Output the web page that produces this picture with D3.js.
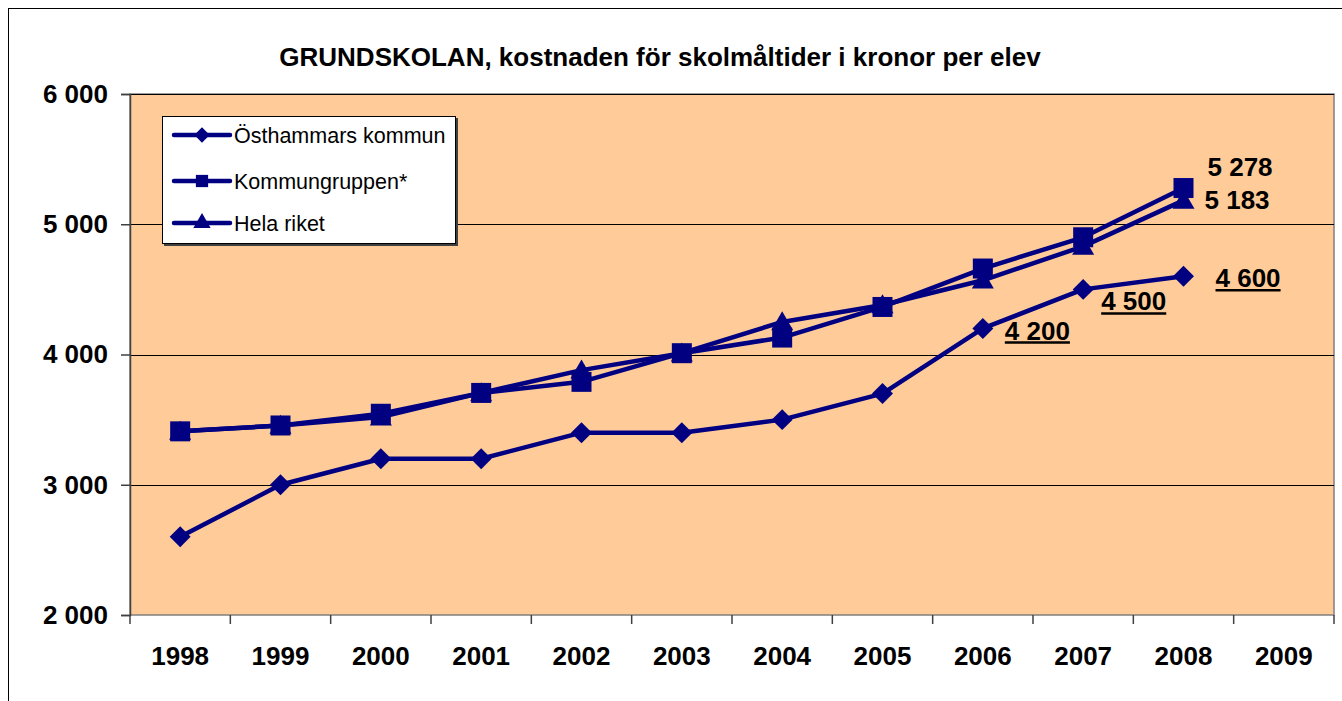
<!DOCTYPE html>
<html>
<head>
<meta charset="utf-8">
<script src="https://cdn.jsdelivr.net/npm/d3@7"></script>
<style>
    body { margin: 0; background: #fff; }
    text { font-family: Arial, "Liberation Sans", sans-serif; }
</style>
</head>
<body>
<div id="chart"></div>
<script>
const years = ["1998", "1999", "2000", "2001", "2002", "2003", "2004", "2005", "2006", "2007", "2008", "2009"];
const yTicks = [2000, 3000, 4000, 5000, 6000];

const osthammar = [2600, 3000, 3200, 3200, 3400, 3400, 3500, 3700, 4200, 4500, 4600];
const kommungruppen = [3410, 3455, 3545, 3705, 3790, 4010, 4130, 4365, 4660, 4900, 5278];
const helaRiket = [3410, 3455, 3520, 3705, 3880, 4010, 4250, 4380, 4570, 4830, 5183];

const seriesNames = ["Östhammars kommun", "Kommungruppen*", "Hela riket"];

// labels shown next to the last points
const endLabels = [
    { series: 1, year: "2008", text: "5 278", dx: 24, dy: -21, underline: false },
    { series: 2, year: "2008", text: "5 183", dx: 21, dy: -1, underline: false },
    { series: 0, year: "2008", text: "4 600", dx: 32, dy: 2, underline: true },
    { series: 0, year: "2007", text: "4 500", dx: 18, dy: 12, underline: true },
    { series: 0, year: "2006", text: "4 200", dx: 22, dy: 2, underline: true }
];

const W = 1342, H = 701;
const margin = { left: 130, top: 94, right: 8, bottom: 86 };
const labelFont = "26px";

const svg = d3.select("#chart").append("svg")
    .attr("width", W)
    .attr("height", H);

// outer chart frame
svg.append("rect")
    .attr("x", 8.5).attr("y", 8.5)
    .attr("width", W + 20).attr("height", H + 20)
    .attr("fill", "#fff")
    .attr("stroke", "#000")
    .attr("stroke-width", 1);

const x = d3.scaleBand()
    .domain(years)
    .range([margin.left, W - margin.right]);

const y = d3.scaleLinear()
    .domain([2000, 6000])
    .range([H - margin.bottom, margin.top]);

// plot area
svg.append("rect")
    .attr("x", margin.left)
    .attr("y", margin.top)
    .attr("width", W - margin.right - margin.left)
    .attr("height", y(2000) - y(6000))
    .attr("fill", "#FFCC99")
    .attr("stroke", "#808080")
    .attr("stroke-width", 1.5);

// gridlines
svg.append("g")
    .selectAll("line")
    .data(yTicks.slice(1))
    .enter().append("line")
    .attr("x1", margin.left)
    .attr("x2", W - margin.right)
    .attr("y1", d => Math.round(y(d)) + 0.5)
    .attr("y2", d => Math.round(y(d)) + 0.5)
    .attr("stroke", "#000")
    .attr("stroke-width", 1);

// y axis
const yAxis = svg.append("g")
    .attr("transform", `translate(${margin.left},0)`)
    .call(d3.axisLeft(y)
        .tickValues(yTicks)
        .tickSize(9)
        .tickPadding(13)
        .tickFormat(d => d3.format(",")(d).replace(",", " ")));

// x axis
const xAxis = svg.append("g")
    .attr("transform", `translate(0,${y(2000)})`)
    .call(d3.axisBottom(x).tickSize(0).tickPadding(32));

svg.append("g")
    .selectAll("line")
    .data(years.concat(["end"]))
    .enter().append("line")
    .attr("x1", (d, i) => margin.left + i * x.step())
    .attr("x2", (d, i) => margin.left + i * x.step())
    .attr("y1", y(2000))
    .attr("y2", y(2000) + 9)
    .attr("stroke", "#404040")
    .attr("stroke-width", 1.5);

[yAxis, xAxis].forEach(ax => {
    ax.select(".domain").attr("stroke", "#404040").attr("stroke-width", 1.5);
    ax.selectAll(".tick line").attr("stroke", "#404040").attr("stroke-width", 1.5);
    ax.selectAll(".tick text")
        .attr("fill", "#000")
        .style("font-size", labelFont)
        .style("font-weight", "bold")
        .style("font-family", "Arial, 'Liberation Sans', sans-serif");
});
xAxis.select(".domain").remove();

// title
svg.append("text")
    .attr("x", 660)
    .attr("y", 66)
    .attr("text-anchor", "middle")
    .style("font-size", "26px")
    .style("font-weight", "bold")
    .text("GRUNDSKOLAN, kostnaden för skolmåltider i kronor per elev");

const navy = "#000080";
const cx = d => x(d) + x.bandwidth() / 2;

const symbols = [
    d3.symbol().type(d3.symbolDiamond2).size(280),
    d3.symbol().type(d3.symbolSquare).size(400),
    d3.symbol().type(d3.symbolTriangle).size(210)
];

const allSeries = [osthammar, kommungruppen, helaRiket];
const line = d3.line()
    .x((d, i) => cx(years[i]))
    .y(d => y(d));

// draw order: Hela riket, Kommungruppen, Östhammar
[2, 1, 0].forEach(s => {
    const values = allSeries[s];
    svg.append("path")
        .attr("d", line(values))
        .attr("fill", "none")
        .attr("stroke", navy)
        .attr("stroke-width", 4.5)
        .attr("stroke-linejoin", "round");

    svg.append("g")
        .selectAll("path")
        .data(values)
        .enter().append("path")
        .attr("d", symbols[s])
        .attr("transform", (d, i) => `translate(${cx(years[i])},${y(d) + (s === 2 ? 2 : 0)})`)
        .attr("fill", navy);
});

// data labels
endLabels.forEach(l => {
    const v = allSeries[l.series][years.indexOf(l.year)];
    const t = svg.append("text")
        .attr("x", cx(l.year) + l.dx)
        .attr("y", y(v) + l.dy)
        .attr("dy", "0.35em")
        .style("font-size", labelFont)
        .style("font-weight", "bold")
        .text(l.text);
    if (l.underline) {
        const bb = t.node().getBBox();
        svg.append("line")
            .attr("x1", bb.x)
            .attr("x2", bb.x + bb.width)
            .attr("y1", y(v) + l.dy + 12)
            .attr("y2", y(v) + l.dy + 12)
            .attr("stroke", "#000")
            .attr("stroke-width", 2.5);
    }
});

// legend
const legend = svg.append("g").attr("transform", "translate(162,116)");
legend.append("rect")
    .attr("x", 2).attr("y", 2)
    .attr("width", 294).attr("height", 128)
    .attr("fill", "#404040");
legend.append("rect")
    .attr("x", 0.5).attr("y", 0.5)
    .attr("width", 293).attr("height", 127)
    .attr("fill", "#fff")
    .attr("stroke", "#000")
    .attr("stroke-width", 1);

const legendY = [19, 65, 107];
seriesNames.forEach((name, s) => {
    const g = legend.append("g").attr("transform", `translate(0,${legendY[s]})`);
    g.append("line")
        .attr("x1", 12).attr("x2", 68)
        .attr("stroke", navy)
        .attr("stroke-width", 4.5)
        .attr("stroke-linecap", "round");
    g.append("path")
        .attr("d", d3.symbol().type(s === 0 ? d3.symbolDiamond2 : s === 1 ? d3.symbolSquare : d3.symbolTriangle)
            .size(s === 0 ? 150 : s === 1 ? 150 : 130))
        .attr("transform", "translate(40,0)")
        .attr("fill", navy);
    g.append("text")
        .attr("x", 72)
        .attr("y", 0)
        .attr("dy", "0.35em")
        .style("font-size", "21.5px")
        .text(name);
});
</script>
</body>
</html>
